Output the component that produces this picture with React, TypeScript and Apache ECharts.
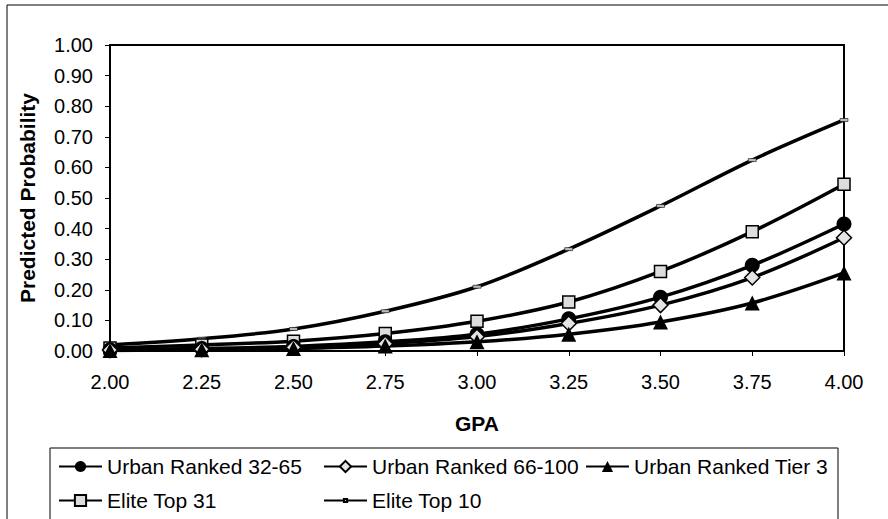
import React, { useEffect, useRef } from "react";
import * as echarts from "echarts";

const gpa = [2.0, 2.25, 2.5, 2.75, 3.0, 3.25, 3.5, 3.75, 4.0];
const urban3265 = [0.004, 0.008, 0.015, 0.03, 0.055, 0.105, 0.176, 0.28, 0.415];
const urban66100 = [0.003, 0.006, 0.012, 0.024, 0.047, 0.09, 0.15, 0.24, 0.37];
const urbanTier3 = [0.002, 0.004, 0.008, 0.016, 0.03, 0.055, 0.095, 0.157, 0.255];
const eliteTop31 = [0.01, 0.02, 0.032, 0.057, 0.097, 0.16, 0.26, 0.39, 0.545];
const eliteTop10 = [0.02, 0.04, 0.072, 0.13, 0.21, 0.333, 0.474, 0.624, 0.755];
const seriesNames = [
  "Urban Ranked 32-65",
  "Urban Ranked 66-100",
  "Urban Ranked Tier 3",
  "Elite Top 31",
  "Elite Top 10",
];

const FONT = "'Liberation Sans', Arial, sans-serif";

export default function App() {
  const ref = useRef<HTMLDivElement>(null);
  useEffect(() => {
    if (!ref.current) return;
    const chart = echarts.init(ref.current, null, { renderer: "svg" });
    const pair = (arr: number[]) => gpa.map((g, i) => [g, arr[i]]);
    const lineStyle = { color: "#000", width: 3.5 };
    const mk = (
      name: string,
      arr: number[],
      symbol: string,
      size: any,
      fill: string,
      border: number
    ) => ({
      name,
      type: "line",
      data: pair(arr),
      smooth: 0.35,
      symbol,
      symbolSize: size,
      lineStyle,
      itemStyle: { color: fill, borderColor: "#000", borderWidth: border },
      emphasis: { disabled: true },
    });
    const legendBase = {
      orient: "horizontal",
      padding: 0,
      itemWidth: 43,
      itemHeight: 14,
      textStyle: { fontFamily: FONT, fontSize: 21, color: "#000" },
      selectedMode: false,
    };
    chart.setOption({
      animation: false,
      backgroundColor: "#fff",
      textStyle: { fontFamily: FONT },
      grid: {
        left: 110,
        right: 44,
        top: 45,
        bottom: 168,
        show: true,
        borderColor: "#000",
        borderWidth: 2,
        backgroundColor: "transparent",
      },
      xAxis: {
        type: "value",
        min: 2,
        max: 4,
        interval: 0.25,
        name: "GPA",
        nameLocation: "middle",
        nameGap: 62,
        nameTextStyle: { fontFamily: FONT, fontSize: 21, fontWeight: "bold", color: "#000" },
        axisLine: { show: true, lineStyle: { color: "#000", width: 1.5 } },
        axisTick: { show: true, inside: false, length: 5, lineStyle: { color: "#000" } },
        axisLabel: {
          fontFamily: FONT,
          fontSize: 20,
          color: "#000",
          margin: 21,
          formatter: (v: number) => v.toFixed(2),
        },
        splitLine: { show: false },
      },
      yAxis: {
        type: "value",
        min: 0,
        max: 1,
        interval: 0.1,
        name: "Predicted Probability",
        nameLocation: "middle",
        nameGap: 72,
        nameRotate: 90,
        nameTextStyle: { fontFamily: FONT, fontSize: 21, fontWeight: "bold", color: "#000" },
        axisLine: { show: true, lineStyle: { color: "#000", width: 1.5 } },
        axisTick: { show: true, inside: false, length: 5, lineStyle: { color: "#000" } },
        axisLabel: {
          fontFamily: FONT,
          fontSize: 20,
          color: "#000",
          margin: 17,
          formatter: (v: number) => v.toFixed(2),
        },
        splitLine: { show: false },
      },
      legend: [
        { ...legendBase, data: [seriesNames[0]], left: 58, top: 456 },
        { ...legendBase, data: [seriesNames[1]], left: 323, top: 456 },
        { ...legendBase, data: [seriesNames[2]], left: 585, top: 456 },
        { ...legendBase, data: [seriesNames[3]], left: 58, top: 490 },
        { ...legendBase, itemHeight: 4, data: [seriesNames[4]], left: 323, top: 490 },
      ],
      graphic: [
        {
          type: "rect",
          shape: { x: 7, y: 5, width: 920, height: 600 },
          style: { fill: "none", stroke: "#000", lineWidth: 1 },
          silent: true,
        },
        {
          type: "rect",
          shape: { x: 50, y: 448, width: 788, height: 120 },
          style: { fill: "none", stroke: "#000", lineWidth: 1 },
          silent: true,
        },
      ],
      series: [
        mk(seriesNames[4], eliteTop10, "rect", [8, 3], "#bbb", 0.5),
        mk(seriesNames[3], eliteTop31, "rect", 12, "#ddd", 1.5),
        mk(seriesNames[0], urban3265, "circle", 15, "#000", 0),
        mk(seriesNames[1], urban66100, "diamond", 15, "#e4e4e4", 1.5),
        mk(seriesNames[2], urbanTier3, "triangle", 15, "#000", 0),
      ],
    });
    return () => chart.dispose();
  }, []);
  return (
    <div
      ref={ref}
      style={{ position: "fixed", left: 0, top: 0, width: 888, height: 519 }}
    />
  );
}
